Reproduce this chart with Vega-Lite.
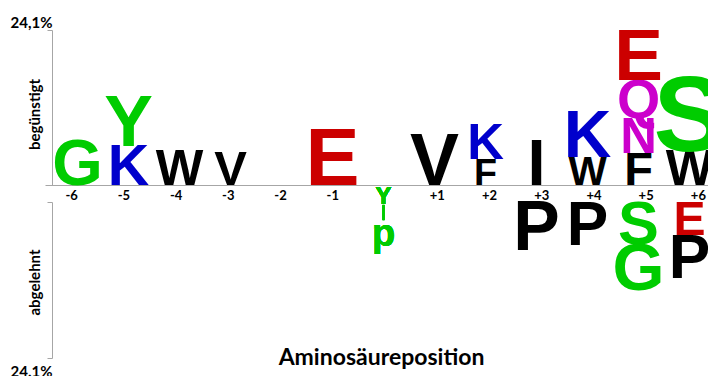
{
  "$schema": "https://vega.github.io/schema/vega-lite/v6.json",
  "padding": {"left": 10, "top": 15, "right": 0, "bottom": 0},
  "background": "white",
  "bounds": "flush",
  "spacing": 17,
  "config": {"view": {"stroke": null}},
  "data": {"values": [
    {"pos": "-6", "aa": "G", "v": 6.9, "side": "up"},
    {"pos": "-5", "aa": "K", "v": 6.1, "side": "up"},
    {"pos": "-5", "aa": "Y", "v": 7.75, "side": "up"},
    {"pos": "-4", "aa": "W", "v": 5.35, "side": "up"},
    {"pos": "-3", "aa": "V", "v": 5.2, "side": "up"},
    {"pos": "-1", "aa": "E", "v": 8.6, "side": "up"},
    {"pos": "+1", "aa": "V", "v": 7.8, "side": "up"},
    {"pos": "+2", "aa": "F", "v": 4.0, "side": "up"},
    {"pos": "+2", "aa": "K", "v": 5.4, "side": "up"},
    {"pos": "+3", "aa": "I", "v": 6.9, "side": "up"},
    {"pos": "+4", "aa": "W", "v": 4.3, "side": "up"},
    {"pos": "+4", "aa": "K", "v": 7.0, "side": "up"},
    {"pos": "+5", "aa": "F", "v": 5.0, "side": "up"},
    {"pos": "+5", "aa": "N", "v": 5.4, "side": "up"},
    {"pos": "+5", "aa": "Q", "v": 5.9, "side": "up"},
    {"pos": "+5", "aa": "E", "v": 7.75, "side": "up"},
    {"pos": "+6", "aa": "W", "v": 5.35, "side": "up"},
    {"pos": "+6", "aa": "S", "v": 15.5, "side": "up"},
    {"pos": "+3", "aa": "P", "v": 7.4, "side": "down"},
    {"pos": "+4", "aa": "P", "v": 6.6, "side": "down"},
    {"pos": "+5", "aa": "S", "v": 6.5, "side": "down"},
    {"pos": "+5", "aa": "G", "v": 7.1, "side": "down"},
    {"pos": "+6", "aa": "E", "v": 5.1, "side": "down"},
    {"pos": "+6", "aa": "P", "v": 6.6, "side": "down"}
  ]},
  "vconcat": [
    {
      "width": 663,
      "height": 155,
      "transform": [
        {"filter": "datum.side == 'up'"},
        {"stack": "v", "groupby": ["pos"], "sort": [{"field": "v", "order": "ascending"}], "as": ["v0", "v1"]}
      ],
      "resolve": {"scale": {"x": "independent"}, "axis": {"x": "independent"}},
      "layer": [
        {
          "transform": [{"filter": "datum.v <= 12"}],
          "mark": {"type": "text", "font": "Liberation Sans", "fontWeight": "bold", "baseline": "alphabetic", "align": "center", "clip": false},
          "encoding": {
            "x": {"field": "pos", "type": "nominal", "sort": null,
              "scale": {"domain": ["-6","-5","-4","-3","-2","-1","0","+1","+2","+3","+4","+5","+6"], "paddingInner": 0, "paddingOuter": 0},
              "axis": null},
            "y": {"field": "v0", "type": "quantitative", "scale": {"domain": [0, 24.1], "nice": false, "zero": true},
              "axis": {"values": [0, 24.1], "labelExpr": "datum.value > 1 ? '24,1%' : ''", "grid": false, "tickSize": 5, "tickColor": "#a6a6a6", "domainColor": "#a6a6a6",
                "labelFont": "Lato", "labelFontWeight": "bold", "labelFontSize": 15, "labelColor": "#000000", "labelPadding": -5, "labelOffset": -8, "labelFlush": false, "labelBaseline": "middle",
                "title": "begünstigt", "titleFont": "Lato", "titleFontWeight": "bold", "titleFontSize": 15, "titleColor": "#000000", "titleX": -13, "titleY": 84, "titleBaseline": "alphabetic", "titleAngle": -90}},
            "text": {"field": "aa"},
            "size": {"field": "v", "type": "quantitative", "scale": {"domain": [0, 24.1], "range": [0, 227]}, "legend": null},
            "color": {"field": "aa", "type": "nominal", "legend": null,
              "scale": {"domain": ["G","S","Y","K","E","N","Q","W","V","F","I","P"],
                        "range": ["#00cc00","#00cc00","#00cc00","#0000cc","#cc0000","#cc00cc","#cc00cc","#000000","#000000","#000000","#000000","#000000"]}}
          }
        },
        {
          "transform": [{"filter": "datum.v > 12"}],
          "mark": {"type": "text", "font": "Liberation Sans", "fontWeight": "bold", "baseline": "alphabetic", "align": "center", "fontSize": 108, "color": "#00cc00"},
          "encoding": {
            "x": {"field": "pos", "type": "nominal", "sort": null,
              "scale": {"domain": ["-6","-5","-4","-3","-2","-1","0","+1","+2","+3","+4","+5","+6"], "paddingInner": 0, "paddingOuter": 0}, "axis": null},
            "y": {"field": "v0", "type": "quantitative"},
            "text": {"field": "aa"}
          }
        },
        {
          "mark": {"type": "text", "font": "Liberation Sans", "fontWeight": "bold", "baseline": "top", "align": "center", "fontSize": 24, "color": "#00cc00", "text": "Y"},
          "encoding": {
            "x": {"datum": "0", "type": "nominal",
              "scale": {"domain": ["-6","-5","-4","-3","-2","-1","0","+1","+2","+3","+4","+5","+6"], "paddingInner": 0, "paddingOuter": 0}, "axis": null},
            "y": {"datum": 0}}
        },
        {
          "mark": {"type": "text", "text": "", "opacity": 0},
          "encoding": {
            "x": {"field": "pos", "type": "nominal", "sort": null,
              "scale": {"domain": ["-6","-5","-4","-3","-2","-1","0","+1","+2","+3","+4","+5","+6"], "range": [-7, 672], "paddingInner": 0, "paddingOuter": 0},
              "axis": {"orient": "bottom", "title": null, "labelAngle": 0, "ticks": false, "domain": true, "domainColor": "#a6a6a6", "labelFont": "Lato", "labelFontWeight": "bold", "labelFontSize": 13, "labelColor": "#000000", "labelPadding": 4,
                "labelExpr": "datum.value == '0' ? '' : datum.value"}},
            "y": {"datum": 0}
          }
        }
      ]
    },
    {
      "width": 663,
      "height": 156,
      "transform": [
        {"filter": "datum.side == 'down'"},
        {"stack": "v", "groupby": ["pos"], "sort": [{"field": "v", "order": "ascending"}], "as": ["v0", "v1"]}
      ],
      "encoding": {
        "x": {"field": "pos", "type": "nominal", "sort": null,
          "scale": {"domain": ["-6","-5","-4","-3","-2","-1","0","+1","+2","+3","+4","+5","+6"], "paddingInner": 0, "paddingOuter": 0},
          "axis": {"labels": false, "ticks": false, "domain": false, "title": "Aminosäureposition", "titleFont": "Lato", "titleFontWeight": "bold", "titleFontSize": 23, "titleColor": "#000000", "titleX": 329, "titleY": 6, "titleBaseline": "alphabetic"}
        }
      },
      "layer": [
        {
          "mark": {"type": "text", "font": "Liberation Sans", "fontWeight": "bold", "baseline": "alphabetic", "align": "center"},
          "encoding": {
            "y": {"field": "v1", "type": "quantitative", "scale": {"domain": [0, 24.1], "nice": false, "reverse": true},
              "axis": {"values": [0, 24.1], "labelExpr": "datum.value > 1 ? '24.1%' : ''", "grid": false, "tickSize": 5, "tickColor": "#a6a6a6", "domainColor": "#a6a6a6",
                "labelFont": "Lato", "labelFontWeight": "bold", "labelFontSize": 15, "labelColor": "#000000", "labelPadding": -5, "labelOffset": 13, "labelFlush": false, "labelBaseline": "middle",
                "title": "abgelehnt", "titleFont": "Lato", "titleFontWeight": "bold", "titleFontSize": 15, "titleColor": "#000000", "titleX": -13, "titleY": 80, "titleBaseline": "alphabetic", "titleAngle": -90}},
            "text": {"field": "aa"},
            "size": {"field": "v", "type": "quantitative", "scale": {"domain": [0, 24.1], "range": [0, 227]}, "legend": null},
            "color": {"field": "aa", "type": "nominal", "legend": null,
              "scale": {"domain": ["G","S","Y","K","E","N","Q","W","V","F","I","P"],
                        "range": ["#00cc00","#00cc00","#00cc00","#0000cc","#cc0000","#cc00cc","#cc00cc","#000000","#000000","#000000","#000000","#000000"]}}
          }
        },
        {
          "mark": {"type": "rule", "color": "#a6a6a6", "strokeWidth": 1},
          "encoding": {"y": {"datum": 0}}
        },
        {
          "mark": {"type": "rule", "color": "#00cc00", "strokeWidth": 2},
          "encoding": {"x": {"datum": "0"}, "y": {"datum": 0.45}, "y2": {"datum": 2.8}}
        },
        {
          "mark": {"type": "text", "font": "Liberation Sans", "fontWeight": "bold", "baseline": "alphabetic", "align": "center", "fontSize": 38, "color": "#00cc00", "text": "p"},
          "encoding": {"x": {"datum": "0"}, "y": {"datum": 6.8}}
        }
      ]
    }
  ]
}
